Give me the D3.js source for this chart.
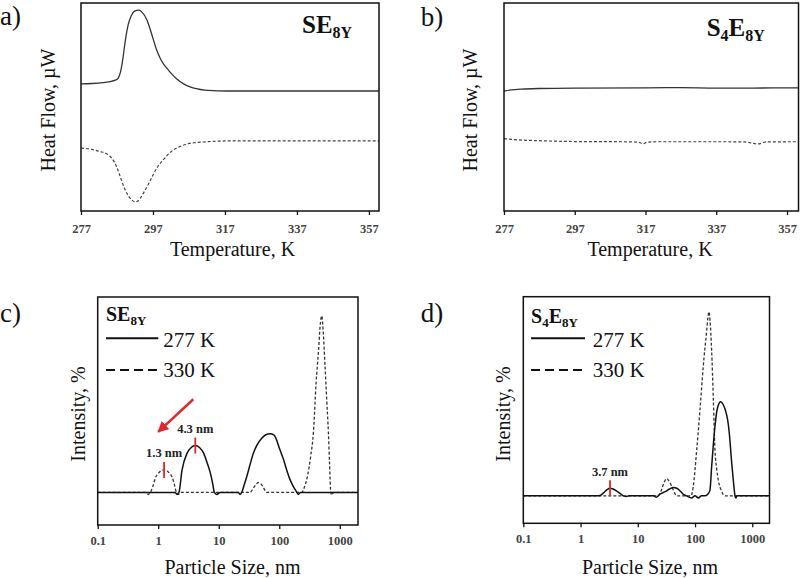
<!DOCTYPE html>
<html><head><meta charset="utf-8">
<script src="https://cdn.jsdelivr.net/npm/d3@7"></script>
<style>
body{margin:0;background:#fff;}
svg{display:block;}
</style></head><body>
<svg id="chart" width="800" height="578" font-family="Liberation Serif"></svg>
<script>
// ---------------- DATA ----------------
const tempTicks = [277, 297, 317, 337, 357];
const sizeTicks = [0.1, 1, 10, 100, 1000];

// a) SE8Y DSC: [temperature K, heat flow (arb.)]
const dscA_solid = [[277,61.1],[280,61.3],[283,61.7],[285,62.2],[286.5,62.9],[287.3,63.8],[288,67],[288.7,74],[289.4,83],[290.1,89.5],[291,94],[292,96.2],[293.1,96.6],[294,95.5],[295.3,92],[296.2,87.5],[297,83],[298,77.5],[298.9,73.8],[300,70.5],[300.9,68.6],[302,66.3],[303.7,63.3],[305.5,61.1],[307.3,59.7],[309,58.8],[311.4,58.1],[315,57.8],[320,57.7],[340,57.7],[360,57.7]];
const dscA_dashed = [[277,30.3],[280,29.6],[282.3,28.6],[284,27.6],[285.1,26.2],[286.3,23.5],[287.3,19.5],[288.2,15],[289.2,10.5],[290.2,7.2],[291.2,5.2],[292,4.4],[292.8,4.8],[293.4,6.0],[294.3,8.5],[295.3,11.5],[296.2,14.5],[297,17.3],[298.4,21.5],[299.8,24.5],[301.2,27.2],[302.6,29.3],[304.5,31],[306.4,32.2],[309,32.9],[312,33.3],[319,33.7],[340,33.7],[360,33.7]];

// b) S4E8Y DSC
const dscB_solid = [[277,57.7],[279,58.2],[282,58.6],[287,58.9],[297,59.1],[317,59.2],[327,59.3],[337,59.1],[347,59.1],[357,59.2],[360.3,59.2]];
const dscB_dashed = [[277,34.8],[280,34.3],[287,33.8],[297,33.4],[310,33.3],[315,33.1],[316.3,32.3],[317.5,33.1],[320,33.3],[337,33.3],[345,33.2],[347,32.7],[348.5,32.2],[350,32.7],[351,33.2],[360.3,33.3]];

// c) SE8Y DLS: [particle size nm, intensity %]
const dlsC_277 = [[0.1,0],[1.9,0],[2.05,-0.3],[2.2,0],[2.47,3.4],[2.99,6.0],[3.5,6.9],[4.1,7.2],[4.8,6.9],[5.65,6.0],[6.4,4.6],[7.26,3.0],[8.0,1.2],[8.46,0],[9.3,-0.3],[10.5,0],[21,0],[22.5,-0.3],[24,0],[26,1.0],[29,2.4],[33,4.3],[37.3,6.0],[43,7.3],[51.4,8.3],[60,8.85],[70.5,9.0],[82,8.8],[103,6.5],[118,5.0],[133,3.4],[150,2.0],[171,0.9],[190,0.2],[207,-0.3],[225,0],[2000,0]];
const dlsC_330 = [[0.1,0],[0.62,0],[0.68,-0.3],[0.74,0],[0.82,1.0],[0.895,2.2],[1.0,2.9],[1.1,3.3],[1.25,3.45],[1.4,3.3],[1.55,2.9],[1.69,2.4],[1.85,1.2],[2.0,0],[2.15,-0.3],[2.35,0],[33,0],[37,0.6],[41,1.2],[45,1.5],[50,1.3],[55,0.7],[62,0],[236,0],[260,0.8],[291,2.4],[330,5.5],[366,9.1],[406,16.8],[447,22],[473,25.5],[503,27.1],[530,25],[571,19.3],[610,14],[649,9.1],[677,4.5],[710,0],[740,-0.4],[790,0],[2000,0]];

// d) S4E8Y DLS
const dlsD_277 = [[0.1,0],[1.9,0],[2.19,0.05],[2.5,0.4],[2.9,0.9],[3.27,1.1],[3.7,1.0],[4.3,0.7],[5.0,0.3],[5.6,0],[6.4,-0.1],[7,0],[19,0],[21,-0.2],[24,0.2],[30,0.6],[36,1.0],[41.7,1.2],[48,1.1],[55,0.7],[63,0.2],[71,0],[87,-0.3],[100,0],[114,-0.3],[130,0],[150,0],[165,0.2],[182,0.8],[195,4.2],[209,7.5],[223,10.1],[240,12.3],[255,13.2],[280,13.7],[310,13.3],[357,11.8],[380,10.5],[407,8.1],[430,5.5],[454,3.3],[480,1.2],[499,0],[515,-0.3],[540,0],[2000,0]];
const dlsD_330 = [[0.1,0],[22.8,0],[26,0.9],[29,2.0],[32,2.5],[36,2.0],[41,1.0],[44.7,0.3],[48,0],[85,0],[93,1.3],[107,6.7],[122,12.5],[139,18.8],[160,24.1],[168,26.0],[175,26.8],[183,25.5],[195,21.2],[209,14],[223,6.7],[240,3.8],[255,2.3],[290,0.7],[333,0],[2000,0]];

// peak annotations: [size nm, intensity at peak, label]
const annotC = [[1.25, 3.45, "1.3 nm"], [4.1, 7.2, "4.3 nm"]];
const annotD = [[3.27, 1.1, "3.7 nm"]];
// arrow in c (data coords): from [size, intensity] to [size, intensity]
const arrowC = [[3.8, 14.3], [1.0, 9.3]];

const legendLabels = ["277 K", "330 K"];
const titleSE = [["SE", false], ["8Y", true]];
const titleS4E = [["S", false], ["4", true], ["E", false], ["8Y", true]];

// ---------------- DRAW ----------------
const svg = d3.select('#chart');
const RED = '#e3262b';
const INK = '#111';
const SERIF = 'Liberation Serif';

svg.append('defs').append('marker')
  .attr('id', 'arrowhead').attr('markerUnits', 'userSpaceOnUse')
  .attr('viewBox', '0 0 10 10').attr('refX', 9).attr('refY', 5)
  .attr('markerWidth', 11).attr('markerHeight', 11).attr('orient', 'auto')
  .append('path').attr('d', 'M0,0 L10,5 L0,10 Z').attr('fill', RED);

function drawTitle(g, x, y, parts, big, small, shift) {
  const t = g.append('text').attr('x', x).attr('y', y)
    .attr('font-weight', 'bold').attr('fill', INK).attr('font-family', SERIF);
  let prevSub = false;
  parts.forEach(([s, sub]) => {
    const ts = t.append('tspan').text(s).attr('font-size', sub ? small : big);
    if (sub !== prevSub) ts.attr('dy', sub ? shift : -shift);
    prevSub = sub;
  });
}

function frame(g, x0, y0, x1, y1) {
  g.append('rect').attr('x', x0).attr('y', y0)
    .attr('width', x1 - x0).attr('height', y1 - y0)
    .attr('fill', 'none').attr('stroke', INK).attr('stroke-width', 1.5);
}

function bottomAxis(g, scale, y, ticks, fmt, pad) {
  const ax = d3.axisBottom(scale).tickValues(ticks).tickFormat(fmt)
    .tickSize(4).tickSizeOuter(0).tickPadding(pad);
  const a = g.append('g').attr('transform', `translate(0,${y})`).call(ax);
  a.attr('font-family', SERIF).attr('font-size', 12.5).attr('font-weight', 'bold');
  a.select('.domain').remove();
  a.selectAll('.tick line').attr('stroke', INK).attr('stroke-width', 1.3);
  a.selectAll('.tick text').attr('fill', '#444');
}

function label(g, txt, x, y, size, rotate, anchor) {
  const t = g.append('text').text(txt).attr('font-size', size)
    .attr('font-family', SERIF).attr('fill', INK)
    .attr('text-anchor', anchor || 'middle');
  if (rotate) t.attr('transform', `translate(${x},${y}) rotate(-90)`);
  else t.attr('x', x).attr('y', y);
  return t;
}

function curve(g, data, x, y, dashed, color, width, clipId) {
  const gen = d3.line().x(d => x(d[0])).y(d => y(d[1])).curve(d3.curveMonotoneX);
  const p = g.append('path').datum(data).attr('d', gen)
    .attr('fill', 'none').attr('stroke', color).attr('stroke-width', width)
    .attr('clip-path', `url(#${clipId})`);
  if (dashed) p.attr('stroke-dasharray', '3,2');
}

function clip(id, x0, y0, x1, y1) {
  svg.select('defs').append('clipPath').attr('id', id)
    .append('rect').attr('x', x0).attr('y', y0).attr('width', x1 - x0).attr('height', y1 - y0);
}

// ----- DSC panels -----
function dscPanel(o) {
  const g = svg.append('g');
  const x = d3.scaleLinear().domain([277, o.tmax]).range([o.x0, o.x1]);
  const y = d3.scaleLinear().domain([0, 100]).range([211, 3]);
  clip(o.id, o.x0, 3, o.x1, 211);
  curve(g, o.solid, x, y, false, '#333', 1.3, o.id);
  curve(g, o.dashed, x, y, true, '#444', 1.2, o.id);
  frame(g, o.x0, 3, o.x1, 211);
  bottomAxis(g, x, 211, tempTicks, d3.format('d'), 9);
  label(g, 'Temperature, K', o.xlab, 256, 20);
  label(g, 'Heat Flow, µW', o.ylabX, 110, 20, true);
  label(g, o.letter, o.letterX, o.letterY, 27, false, 'start');
  drawTitle(g, o.titleX, o.titleY, o.title, 25, 16, 5);
}

dscPanel({id: 'ca', x0: 81, x1: 379, tmax: 359.8, solid: dscA_solid, dashed: dscA_dashed,
  xlab: 232.5, ylabX: 55, letter: 'a)', letterX: 0, letterY: 25, titleX: 302, titleY: 33, title: titleSE});
dscPanel({id: 'cb', x0: 504, x1: 798.5, tmax: 360.25, solid: dscB_solid, dashed: dscB_dashed,
  xlab: 650, ylabX: 477, letter: 'b)', letterX: 420.7, letterY: 26, titleX: 706.7, titleY: 36, title: titleS4E});

// ----- DLS panels -----
function dlsPanel(o) {
  const g = svg.append('g');
  const x = d3.scaleLog().domain([0.1, 2000]).range([o.x0, o.x1]);
  const y = d3.scaleLinear().domain(o.ydom).range([o.y1, o.y0]);
  clip(o.id, o.x0, o.y0, o.x1, o.y1);
  curve(g, o.s330, x, y, true, '#333', 1.3, o.id);
  curve(g, o.s277, x, y, false, INK, 1.5, o.id);
  frame(g, o.x0, o.y0, o.x1, o.y1);
  bottomAxis(g, x, o.y1, sizeTicks, d => String(d), 7);
  label(g, 'Particle Size, nm', o.xlab, 574, 20);
  label(g, 'Intensity, %', o.ylabX, 414, 20, true);
  label(g, o.letter, o.letterX, 321.7, 27, false, 'start');

  // legend
  drawTitle(g, o.legX, o.legTitleY, o.title, 20, 13, 4);
  g.append('line').attr('x1', o.legX).attr('x2', o.legX2).attr('y1', 338.3).attr('y2', 338.3)
    .attr('stroke', INK).attr('stroke-width', 2);
  g.append('line').attr('x1', o.legX).attr('x2', o.legX2).attr('y1', 370).attr('y2', 370)
    .attr('stroke', INK).attr('stroke-width', 2).attr('stroke-dasharray', '9,5');
  label(g, legendLabels[0], o.legX2 + o.legGap, 346.7, 21, false, 'start');
  label(g, legendLabels[1], o.legX2 + o.legGap, 376.5, 21, false, 'start');

  // peak markers
  o.annot.forEach(([s, v, txt]) => {
    const px = x(s), py = y(v);
    g.append('line').attr('x1', px).attr('x2', px).attr('y1', py - 8).attr('y2', py + 8)
      .attr('stroke', RED).attr('stroke-width', 1.8);
    g.append('text').text(txt).attr('x', px).attr('y', py - 12.5)
      .attr('text-anchor', 'middle').attr('font-size', 12.5).attr('font-weight', 'bold')
      .attr('font-family', SERIF).attr('fill', '#222');
  });
  if (o.arrow) {
    g.append('line')
      .attr('x1', x(o.arrow[0][0])).attr('y1', y(o.arrow[0][1]))
      .attr('x2', x(o.arrow[1][0])).attr('y2', y(o.arrow[1][1]))
      .attr('stroke', RED).attr('stroke-width', 2.5).attr('marker-end', 'url(#arrowhead)');
  }
}

dlsPanel({id: 'cc', x0: 97.7, x1: 358, y0: 297, y1: 525, ydom: [-5, 30],
  s277: dlsC_277, s330: dlsC_330, xlab: 232.5, ylabX: 85, letter: 'c)', letterX: 0,
  legX: 106, legX2: 158.3, legGap: 5, legTitleY: 321, title: titleSE, annot: annotC, arrow: arrowC});
dlsPanel({id: 'cd', x0: 523.3, x1: 769.5, y0: 296.7, y1: 523.3, ydom: [-4, 29],
  s277: dlsD_277, s330: dlsD_330, xlab: 650, ylabX: 510, letter: 'd)', letterX: 420.7,
  legX: 531, legX2: 585, legGap: 7.7, legTitleY: 323, title: titleS4E, annot: annotD, arrow: null});
</script>
</body></html>
